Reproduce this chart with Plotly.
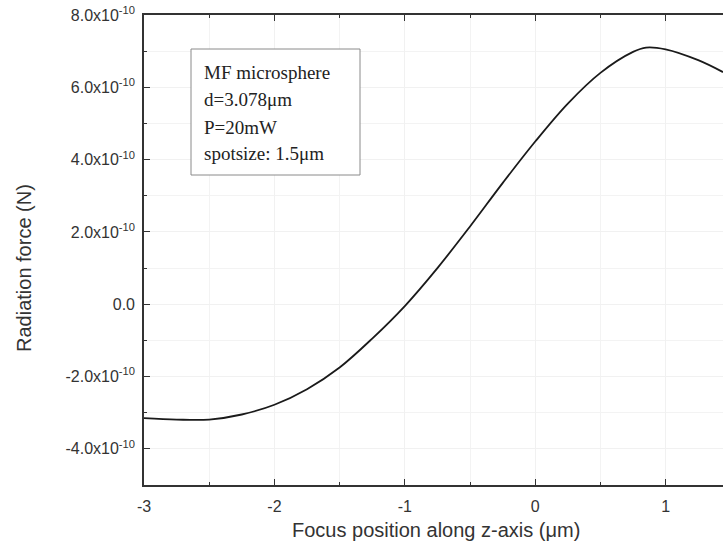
import plotly.graph_objects as go

# Focus position (um) and radiation force (N)
z_um = [-3.0, -2.75, -2.5, -2.25, -2.0, -1.75, -1.5, -1.25, -1.0, -0.75, -0.5,
        -0.25, 0.0, 0.25, 0.5, 0.75, 0.85, 1.0, 1.25, 1.44]
force_N = [-3.15e-10, -3.19e-10, -3.19e-10, -3.05e-10, -2.78e-10, -2.35e-10,
           -1.75e-10, -0.95e-10, -0.05e-10, 1.0e-10, 2.15e-10, 3.35e-10,
           4.5e-10, 5.55e-10, 6.4e-10, 6.98e-10, 7.1e-10, 7.05e-10, 6.75e-10,
           6.42e-10]

x_tickvals = [-3, -2, -1, 0, 1]
x_ticktext = ["-3", "-2", "-1", "0", "1"]
y_tickvals = [-4e-10, -2e-10, 0, 2e-10, 4e-10, 6e-10, 8e-10]
y_ticktext = ["-4.0x10<sup>-10</sup>", "-2.0x10<sup>-10</sup>", "0.0",
              "2.0x10<sup>-10</sup>", "4.0x10<sup>-10</sup>",
              "6.0x10<sup>-10</sup>", "8.0x10<sup>-10</sup>"]

x_title = "Focus position along z-axis (\u03bcm)"
y_title = "Radiation force (N)"
info_lines = ["MF microsphere", "d=3.078\u03bcm", "P=20mW", "spotsize: 1.5\u03bcm"]

W, H = 723, 551
L, R, T, B = 144, 0, 15, 66
pw, ph = W - L - R, H - T - B

def px(x):
    return (x - L) / pw

def py(y):
    return (H - B - y) / ph

SANS = "Liberation Sans, Arial, sans-serif"
SERIF = "Liberation Serif, Times New Roman, serif"

fig = go.Figure()
fig.add_trace(go.Scatter(x=z_um, y=force_N, mode="lines",
                         line=dict(color="#1a1a1a", width=1.8, shape="spline", smoothing=1.0),
                         showlegend=False, hoverinfo="skip"))

axis_common = dict(
    showline=True, linecolor="#333333", linewidth=1.6,
    ticks="inside", ticklen=6, tickwidth=1.4, tickcolor="#333333",
    tickfont=dict(family=SANS, size=16, color="#333333"),
    showgrid=True, gridcolor="#f1f1f1", gridwidth=1, zeroline=False,
)

fig.update_xaxes(
    range=[-3, 1.44], tickmode="array", tickvals=x_tickvals, ticktext=x_ticktext,
    ticklabelstandoff=6, mirror="ticks",
    minor=dict(tickmode="linear", tick0=-3, dtick=0.5, ticks="inside", ticklen=3,
               tickwidth=1, tickcolor="#333333", showgrid=True, gridcolor="#f3f3f3"),
    **axis_common,
)
fig.update_yaxes(
    range=[-5e-10, 8e-10], tickmode="array", tickvals=y_tickvals, ticktext=y_ticktext,
    ticklabelstandoff=4, mirror=False,
    minor=dict(tickmode="linear", tick0=0, dtick=1e-10, ticks="inside", ticklen=3,
               tickwidth=1, tickcolor="#333333", showgrid=True, gridcolor="#f3f3f3"),
    **axis_common,
)

# Axis titles
fig.add_annotation(xref="paper", yref="paper", x=px(436), y=py(530),
                   xanchor="center", yanchor="middle", showarrow=False, text=x_title,
                   font=dict(family=SANS, size=20, color="#333333"))
fig.add_annotation(xref="paper", yref="paper", x=px(24), y=py(268),
                   xanchor="center", yanchor="middle", showarrow=False, text=y_title,
                   textangle=-90, font=dict(family=SANS, size=20, color="#333333"))

# Info box
fig.add_shape(type="rect", xref="paper", yref="paper",
              x0=px(191), x1=px(360), y0=py(175), y1=py(49),
              line=dict(color="#8a8a8a", width=1), fillcolor="white", layer="above")
line_centers = [72, 100, 127, 153]
for txt, yc in zip(info_lines, line_centers):
    fig.add_annotation(xref="paper", yref="paper", x=px(202), y=py(yc),
                       xanchor="left", yanchor="middle", showarrow=False, text=txt,
                       font=dict(family=SERIF, size=19, color="#222222"))

fig.update_layout(
    width=W, height=H, margin=dict(l=L, r=R, t=T, b=B),
    paper_bgcolor="white", plot_bgcolor="white",
)

fig.write_html("out.html", config={"displayModeBar": False},
               post_script="document.body.style.margin='0';document.body.style.overflow='hidden';")
